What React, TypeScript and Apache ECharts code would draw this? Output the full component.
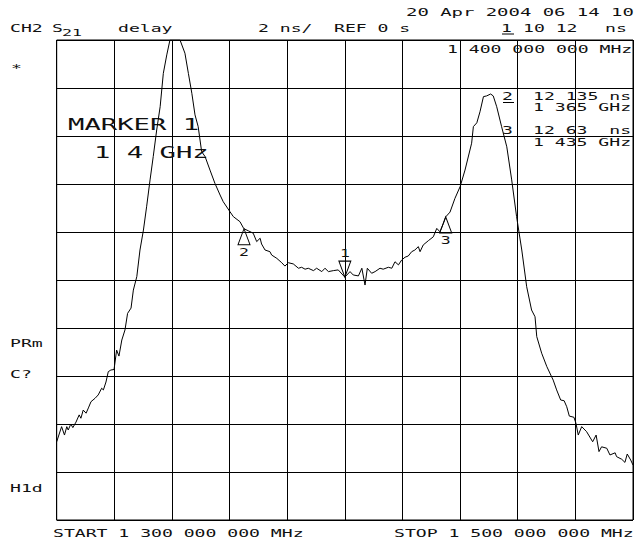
import React, { useEffect, useRef } from "react";
import * as echarts from "echarts";

// ---- data ----
const freqMHz = [
  1300, 1301.7, 1302.7, 1303.5, 1304.0, 1304.9, 1305.6, 1306.7, 1307.8, 1308.4,
  1309.2, 1310.2, 1311.0, 1311.9, 1313.3, 1314.4, 1315.6, 1316.2, 1317.1, 1317.9,
  1318.8, 1319.9, 1320.8, 1321.6, 1322.6, 1323.7, 1324.6, 1325.8, 1326.6, 1327.8,
  1328.9, 1330.1, 1331.2, 1332.4, 1333.5, 1334.7, 1335.9, 1337.0, 1338.2, 1339.3,
  1342.8, 1344.5, 1345.7, 1346.9, 1348.0, 1349.1, 1350.3, 1351.5, 1353.2, 1354.9,
  1356.7, 1357.8, 1360.1, 1361.3, 1363.6, 1364.8, 1365.0, 1366.5, 1368.2, 1369.4,
  1370.6, 1371.1, 1372.3, 1374.0, 1374.6, 1376.4, 1378.1, 1379.2, 1380.4, 1382.1,
  1383.9, 1385.0, 1386.2, 1387.3, 1389.1, 1390.2, 1392.0, 1393.1, 1394.3, 1396.0,
  1397.7, 1400.0, 1401.8, 1402.9, 1404.7, 1405.9, 1407.0, 1407.8, 1409.3, 1410.5,
  1412.2, 1413.3, 1415.1, 1416.3, 1417.4, 1418.6, 1419.7, 1420.9, 1422.0, 1423.2,
  1424.3, 1425.5, 1426.1, 1427.2, 1429.0, 1430.7, 1431.9, 1433.0, 1434.2, 1435.0,
  1436.5, 1438.2, 1440.0, 1441.7, 1444.0, 1444.6, 1445.8, 1446.9, 1448.1, 1449.2,
  1450.6, 1451.5, 1452.7, 1454.4, 1456.2, 1457.9, 1459.6, 1461.4, 1463.1, 1464.8,
  1466.0, 1466.6, 1468.3, 1470.1, 1472.3, 1473.5, 1474.9, 1476.1, 1477.0, 1477.9,
  1479.5, 1480.2, 1481.0, 1482.2, 1483.9, 1486.0, 1487.2, 1488.2, 1489.1, 1490.9,
  1492.0, 1493.8, 1494.3, 1496.1, 1497.2, 1498.0, 1499.2, 1500,
];

const delayNs = [
  3.26, 3.89, 3.54, 3.89, 3.75, 4.0, 3.85, 4.08, 4.38, 4.24,
  4.58, 4.45, 4.67, 4.93, 5.07, 5.21, 5.49, 5.42, 5.75, 6.18,
  6.25, 6.27, 7.08, 6.83, 7.5, 7.92, 8.61, 8.83, 9.58, 10.14,
  11.25, 12.08, 13.05, 14.17, 15.14, 16.25, 17.22, 18.61, 19.38, 20,
  20, 19.45, 18.61, 17.78, 16.88, 16.39, 15.35, 15.14, 14.58, 14.03,
  13.54, 13.26, 12.85, 12.64, 12.43, 12.17, 12.135, 12.05, 11.95, 11.6,
  11.74, 11.5, 11.25, 11.18, 11.04, 10.9, 10.72, 10.58, 10.72, 10.67,
  10.49, 10.53, 10.45, 10.49, 10.39, 10.49, 10.35, 10.49, 10.35, 10.39,
  10.42, 10.12, 10.35, 10.21, 10.17, 10.49, 9.79, 10.49, 10.28, 10.35,
  10.49, 10.45, 10.53, 10.49, 10.76, 10.63, 10.83, 10.95, 11.0, 11.18,
  11.25, 11.39, 11.18, 11.46, 11.64, 11.8, 12.15, 12.01, 12.36, 12.63,
  12.83, 13.4, 13.89, 14.58, 15.7, 16.39, 16.55, 17.01, 17.64, 17.67,
  17.75, 17.67, 17.22, 16.39, 15.55, 14.17, 12.64, 11.25, 9.72, 8.75,
  8.47, 7.64, 6.95, 6.39, 5.83, 5.42, 5.0, 4.97, 4.72, 4.33,
  4.28, 4.03, 3.54, 3.89, 3.68, 3.26, 3.54, 2.85, 3.05, 2.99,
  2.71, 2.8, 2.64, 2.53, 2.4, 2.75, 2.5, 2.29,
];

const markerNames = ["1", "2", "3"];
const markerFreq = [1400, 1365, 1435];
const markerDelay = [10.12, 12.135, 12.63];

const xMin = 1300;
const xMax = 1500;
const xStep = 20;
const yMin = 0;
const yMax = 20;
const yStep = 2;

const MONO = '"DejaVu Sans Mono", "Liberation Mono", monospace';

type Txt = { t: string; x: number; y: number; fs?: number; adv?: number };

const SMALL = 11;
const SMALL_ADV = 10.9;
const BIG = 16;
const BIG_ADV = 16.4;
const TRI_W = 12;
const TRI_H = 16;

const texts: Txt[] = [
  { t: "20 Apr 2004 06 14 10", x: 406, y: 12, adv: 11.4 },
  { t: "CH2", x: 10, y: 28 },
  { t: "S", x: 52, y: 28 },
  { t: "21", x: 62, y: 33, fs: 9, adv: 10 },
  { t: "delay", x: 118, y: 28 },
  { t: "2 ns/", x: 258, y: 28 },
  { t: "REF 0 s", x: 334, y: 28 },
  { t: "1", x: 501, y: 28 },
  { t: "10 12", x: 523, y: 28 },
  { t: "ns", x: 605, y: 28 },
  { t: "*", x: 11, y: 68 },
  { t: "1 400 000 000 MHz", x: 447, y: 49 },
  { t: "2", x: 502, y: 96 },
  { t: "12 135 ns", x: 533, y: 96 },
  { t: "1 365 GHz", x: 533, y: 107.5 },
  { t: "3", x: 502, y: 130.5 },
  { t: "12 63  ns", x: 533, y: 130.5 },
  { t: "1 435 GHz", x: 533, y: 142.5 },
  { t: "PRm", x: 10, y: 343 },
  { t: "C?", x: 10, y: 374 },
  { t: "H1d", x: 10, y: 488 },
  { t: "START 1 300 000 000 MHz", x: 53, y: 533 },
  { t: "STOP 1 500 000 000 MHz", x: 394, y: 533 },
  { t: "MARKER 1", x: 68, y: 124, fs: BIG, adv: BIG_ADV },
  { t: "1 4 GHz", x: 94, y: 152, fs: BIG, adv: BIG_ADV },
];

const underlines = [
  { x1: 502, x2: 514, y: 34 },
  { x1: 503, x2: 514, y: 102.5 },
  { x1: 503, x2: 514, y: 136.5 },
];

export default function App() {
  const ref = useRef<HTMLDivElement>(null);

  useEffect(() => {
    if (!ref.current) return;
    const chart = echarts.init(ref.current, undefined, { renderer: "svg" });

    const seriesData = freqMHz.map((f, i) => [f, delayNs[i]]);

    const markData = markerNames.map((n, i) => {
      const down = i === 0;
      return {
        coord: [markerFreq[i], markerDelay[i]],
        symbol: down ? "path://M0,0 L12,0 L6,16 Z" : "path://M6,0 L12,16 L0,16 Z",
        symbolSize: [TRI_W, TRI_H],
        symbolKeepAspect: false,
        symbolOffset: [0, down ? -TRI_H / 2 : TRI_H / 2],
        itemStyle: { color: "rgba(255,255,255,0)", borderColor: "#000", borderWidth: 1 },
        label: { show: false },
      };
    });

    chart.setOption({
      animation: false,
      backgroundColor: "#fff",
      grid: {
        left: 56.7,
        top: 40,
        width: 576.3,
        height: 480,
        show: true,
        borderColor: "#000",
        borderWidth: 1,
        backgroundColor: "transparent",
      },
      xAxis: {
        type: "value",
        min: xMin,
        max: xMax,
        interval: xStep,
        axisLabel: { show: false },
        axisTick: { show: false },
        axisLine: { show: false },
        splitLine: { show: true, lineStyle: { color: "#000", width: 1 } },
      },
      yAxis: {
        type: "value",
        min: yMin,
        max: yMax,
        interval: yStep,
        axisLabel: { show: false },
        axisTick: { show: false },
        axisLine: { show: false },
        splitLine: { show: true, lineStyle: { color: "#000", width: 1 } },
      },
      series: [
        {
          type: "line",
          data: seriesData,
          showSymbol: false,
          symbol: "none",
          clip: true,
          lineStyle: { color: "#000", width: 1 },
          markPoint: { silent: true, data: markData },
        },
      ],
    });

    const graphicEls: any[] = texts.map((o) => {
      const fs = o.fs ?? SMALL;
      const adv = o.adv ?? SMALL_ADV;
      return {
        type: "text",
        x: o.x,
        y: o.y,
        scaleX: adv / (0.602 * fs),
        silent: true,
        style: {
          text: o.t,
          fontFamily: MONO,
          fontSize: fs,
          fill: "#111",
          align: "left",
          verticalAlign: "middle",
        },
      };
    });
    underlines.forEach((u) => {
      graphicEls.push({
        type: "line",
        silent: true,
        shape: { x1: u.x1, y1: u.y, x2: u.x2, y2: u.y },
        style: { stroke: "#000", lineWidth: 1 },
      });
    });
    // marker numbers placed next to the triangles, via the chart's own scales
    markerNames.forEach((n, i) => {
      const p = chart.convertToPixel({ gridIndex: 0 }, [markerFreq[i], markerDelay[i]]) as number[];
      const down = i === 0;
      graphicEls.push({
        type: "text",
        x: p[0],
        y: down ? p[1] - TRI_H - 8 : p[1] + TRI_H + 7,
        scaleX: 1.5,
        silent: true,
        style: {
          text: n,
          fontFamily: MONO,
          fontSize: SMALL,
          fill: "#111",
          align: "center",
          verticalAlign: "middle",
        },
      });
    });

    chart.setOption({ graphic: graphicEls });

    return () => chart.dispose();
  }, []);

  return (
    <div
      style={{ position: "fixed", left: 0, top: 0, width: 634, height: 544, background: "#fff" }}
    >
      <div ref={ref} style={{ width: 634, height: 544 }} />
    </div>
  );
}
